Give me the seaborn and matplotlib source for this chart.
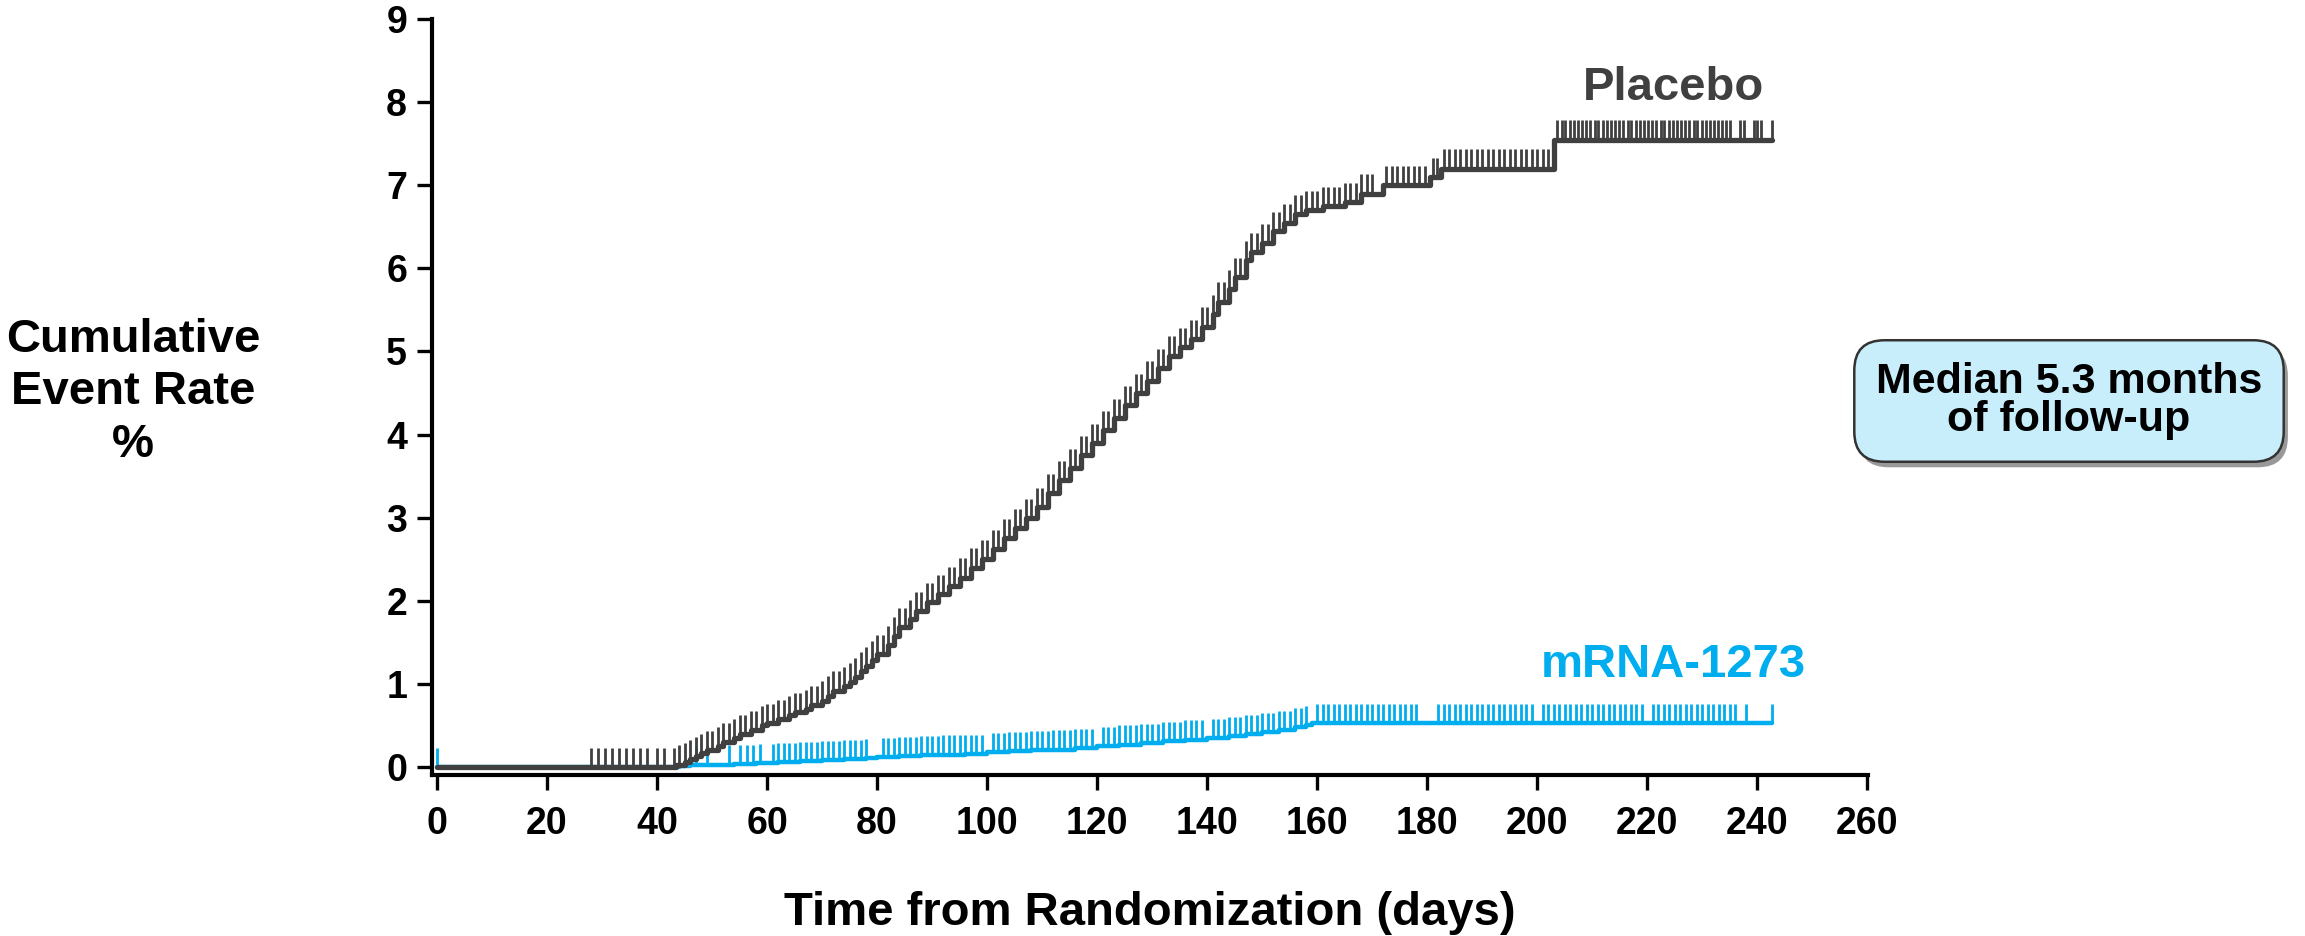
import numpy as np
import pandas as pd
import matplotlib
matplotlib.use("Agg")
import matplotlib.pyplot as plt
import matplotlib.patheffects as pe
import seaborn as sns

# ---------------- data ----------------
x_ticks = [0, 20, 40, 60, 80, 100, 120, 140, 160, 180, 200, 220, 240, 260]
y_ticks = [0, 1, 2, 3, 4, 5, 6, 7, 8, 9]

placebo_days = [0, 43.5, 45, 46, 47, 48, 49, 51, 52, 54, 55, 57, 59, 60, 62, 64, 65, 67, 68,
                70, 71, 72, 74, 75, 76, 77, 78, 79, 80, 82, 83, 84, 86, 87, 89, 91, 93, 95,
                97, 99, 101, 103, 105, 107, 109, 111, 113, 115, 117, 119, 121, 123, 125,
                127, 129, 131, 133, 135, 137, 139, 141, 142, 144, 145, 147, 148, 150, 152,
                154, 156, 158, 161, 165, 168, 172, 180.5, 182.5, 203, 242.6]
placebo_rate = [0, 0.03, 0.06, 0.1, 0.13, 0.17, 0.2, 0.25, 0.3, 0.35, 0.4, 0.45, 0.5, 0.53,
                0.58, 0.62, 0.66, 0.7, 0.75, 0.8, 0.86, 0.92, 0.97, 1.02, 1.08, 1.15, 1.22,
                1.29, 1.36, 1.47, 1.58, 1.68, 1.78, 1.88, 1.98, 2.08, 2.18, 2.28, 2.4, 2.5,
                2.62, 2.75, 2.88, 3.0, 3.13, 3.3, 3.45, 3.6, 3.75, 3.9, 4.05, 4.2, 4.35,
                4.5, 4.65, 4.8, 4.95, 5.05, 5.15, 5.3, 5.45, 5.6, 5.75, 5.9, 6.1, 6.2, 6.3,
                6.45, 6.55, 6.65, 6.7, 6.75, 6.8, 6.9, 7.0, 7.1, 7.2, 7.55, 7.55]

mrna_days = [0, 44, 46, 50, 54, 58, 62, 66, 70, 74, 78, 80, 84, 88, 92, 96, 100, 104, 108,
             112, 116, 120, 124, 128, 132, 136, 140, 144, 147, 150, 153, 156, 158, 159, 242.7]
mrna_rate = [0, 0.01, 0.02, 0.03, 0.04, 0.05, 0.06, 0.07, 0.08, 0.1, 0.11, 0.12, 0.13, 0.14,
             0.15, 0.16, 0.18, 0.19, 0.2, 0.21, 0.23, 0.25, 0.27, 0.29, 0.31, 0.33, 0.35,
             0.37, 0.4, 0.42, 0.45, 0.48, 0.5, 0.53, 0.53]

placebo_censor = [28, 29.3, 30.5, 31.8, 33, 34.3, 35.6, 36.9, 38.2, 40, 41.2,
                  43, 44, 45, 46, 47, 48, 49, 50, 51, 52, 53, 54, 55, 56, 57, 58, 59, 60,
                  61, 62, 63, 64, 65, 66, 67, 68, 69, 70, 71, 72, 73, 74, 75, 76, 77, 78,
                  79, 80, 81, 82, 83, 84, 85, 86, 87, 88, 89, 90, 91, 92, 93, 94, 95, 96,
                  97, 98, 99, 100, 101, 102, 103, 104, 105, 106, 107, 108, 109, 110, 111,
                  112, 113, 114, 115, 116, 117, 118, 119, 120, 121, 122, 123, 124, 125,
                  126, 127, 128, 129, 130, 131, 132, 133, 134, 135, 136, 137, 138, 139,
                  140, 141, 142, 143, 144, 145, 146, 147, 148, 149, 150, 151, 152, 153,
                  154, 155, 156, 157, 158, 159, 160, 161, 162, 163, 164, 165, 166, 167,
                  168, 169, 170,
                  172.5, 173.5, 174.5, 175.5, 176.5, 177.5, 178.5, 179.5, 181, 181.8,
                  183, 184, 185, 186, 187, 188, 189, 190, 191, 192, 193, 194, 195, 196,
                  197, 198, 199, 200, 201, 202,
                  203.6, 204.4, 205.1, 205.9, 206.6, 207.4, 208.1, 208.9, 209.6, 210.4,
                  211.1, 211.9, 212.6, 213.4, 214.1, 214.9, 215.6, 216.4, 217.1, 217.9,
                  218.6, 219.4, 220.1, 220.9, 221.6, 222.4, 223.1, 223.9, 224.6, 225.4,
                  226.1, 226.9, 227.6, 228.4, 229.1, 229.9, 230.6, 231.4, 232.1, 232.8,
                  233.6, 234.3, 235.0, 236.9, 237.6, 239.3, 240.0, 240.7, 242.6]

mrna_censor = [0, 47, 49, 53, 55, 56.3, 57.5, 58.8,
               61, 62, 63, 64, 65, 66, 67, 68, 69, 70, 71, 72, 73, 74, 75, 76, 77, 78,
               81, 82, 83, 84, 85, 86, 87, 88, 89, 90, 91, 92, 93, 94, 95, 96, 97, 98, 99,
               101, 102, 103, 104, 105, 106, 107, 108, 109, 110, 111, 112, 113, 114, 115,
               116, 117, 118, 119,
               121, 122, 123, 124, 125, 126, 127, 128, 129, 130, 131, 132, 133, 134, 135,
               136, 137, 138, 139,
               141, 142, 143, 144, 145, 146, 147, 148, 149, 150, 151, 152, 153, 154, 155,
               156, 157, 158,
               160, 161, 162, 163, 164, 165, 166, 167, 168, 169, 170, 171, 172, 173, 174,
               175, 176, 177, 178,
               182, 183, 184, 185, 186, 187, 188, 189, 190, 191, 192, 193, 194, 195, 196,
               197, 198, 199,
               201, 202, 203, 204, 205, 206, 207, 208, 209, 210, 211, 212, 213, 214, 215,
               216, 217, 218, 219,
               221, 222, 223, 224, 225, 226, 227, 228, 229, 230, 231, 232, 233, 234, 235,
               236, 238, 242.7]

PLACEBO_COLOR = "#404040"
MRNA_COLOR = "#00AEEF"

# ---------------- style ----------------
sns.set_theme(style="ticks")
plt.rcParams["font.family"] = ["Liberation Sans", "DejaVu Sans"]
plt.rcParams["font.weight"] = "bold"

fig = plt.figure(figsize=(23.05, 9.36), dpi=100)
ax = fig.add_axes([0.18742, 0.17201, 0.62299, 0.80769])

df = pd.concat([
    pd.DataFrame({"day": mrna_days, "rate": mrna_rate, "arm": "mRNA-1273"}),
    pd.DataFrame({"day": placebo_days, "rate": placebo_rate, "arm": "Placebo"}),
], ignore_index=True)

sns.lineplot(data=df[df.arm == "mRNA-1273"], x="day", y="rate", ax=ax,
             color=MRNA_COLOR, lw=3.2, drawstyle="steps-post", estimator=None,
             legend=False, zorder=3)
sns.lineplot(data=df[df.arm == "Placebo"], x="day", y="rate", ax=ax,
             color=PLACEBO_COLOR, lw=3.8, drawstyle="steps-post", estimator=None,
             legend=False, zorder=4)


def step_value(days, vals, t):
    d = np.asarray(days)
    v = np.asarray(vals)
    idx = np.searchsorted(d, np.asarray(t), side="right") - 1
    return v[np.clip(idx, 0, len(v) - 1)]


tick_h = 0.23
mc = np.asarray(mrna_censor)
my = step_value(mrna_days, mrna_rate, mc)
ax.vlines(mc, my, my + tick_h, colors=MRNA_COLOR, lw=2.0, zorder=3)
pcx = np.asarray(placebo_censor)
py = step_value(placebo_days, placebo_rate, pcx)
ax.vlines(pcx, py, py + tick_h, colors=PLACEBO_COLOR, lw=2.0, zorder=4)

# ---------------- axes ----------------
ax.set_xlim(-0.9, 260.1)
ax.set_ylim(-0.096, 9)
ax.set_xticks(x_ticks)
ax.set_yticks(y_ticks)
ax.set_xticklabels([str(v) for v in x_ticks])
ax.set_yticklabels([str(v) for v in y_ticks])
for s in ["top", "right"]:
    ax.spines[s].set_visible(False)
for s in ["left", "bottom"]:
    ax.spines[s].set_linewidth(3)
    ax.spines[s].set_color("black")
ax.tick_params(axis="both", which="major", length=11, width=2.4, color="black",
               labelsize=27, labelcolor="black", direction="out")
ax.tick_params(axis="x", pad=11)
ax.tick_params(axis="y", pad=7)
for lab in ax.get_xticklabels() + ax.get_yticklabels():
    lab.set_fontweight("bold")

ax.set_xlabel("Time from Randomization (days)", fontsize=34, fontweight="bold",
              color="black", va="baseline")
ax.xaxis.set_label_coords(0.5, -0.198)
ax.set_ylabel("Cumulative\nEvent Rate\n%", fontsize=34, fontweight="bold", color="black",
              rotation=0, ha="center", va="center", multialignment="center",
              linespacing=1.25)
ax.yaxis.set_label_coords(-0.208, 0.5066)

ax.text(241.3, 8.03, "Placebo", ha="right", va="baseline", fontsize=34,
        fontweight="bold", color=PLACEBO_COLOR)
ax.text(248.9, 1.08, "mRNA-1273", ha="right", va="baseline", fontsize=34,
        fontweight="bold", color=MRNA_COLOR)

t = fig.text(2069 / 2305, 1 - 401 / 936, "Median 5.3 months\nof follow-up",
             ha="center", va="center", multialignment="center", fontsize=31,
             fontweight="bold", color="black", linespacing=0.95,
             bbox=dict(boxstyle="round,pad=0.5,rounding_size=0.7", fc="#C8EEFC",
                       ec="#333333", lw=1.8))
t.get_bbox_patch().set_path_effects([
    pe.SimplePatchShadow(offset=(3, -4), shadow_rgbFace="#555555", alpha=0.6),
    pe.Normal()])

fig.savefig("out.png", dpi=100, facecolor="white")
